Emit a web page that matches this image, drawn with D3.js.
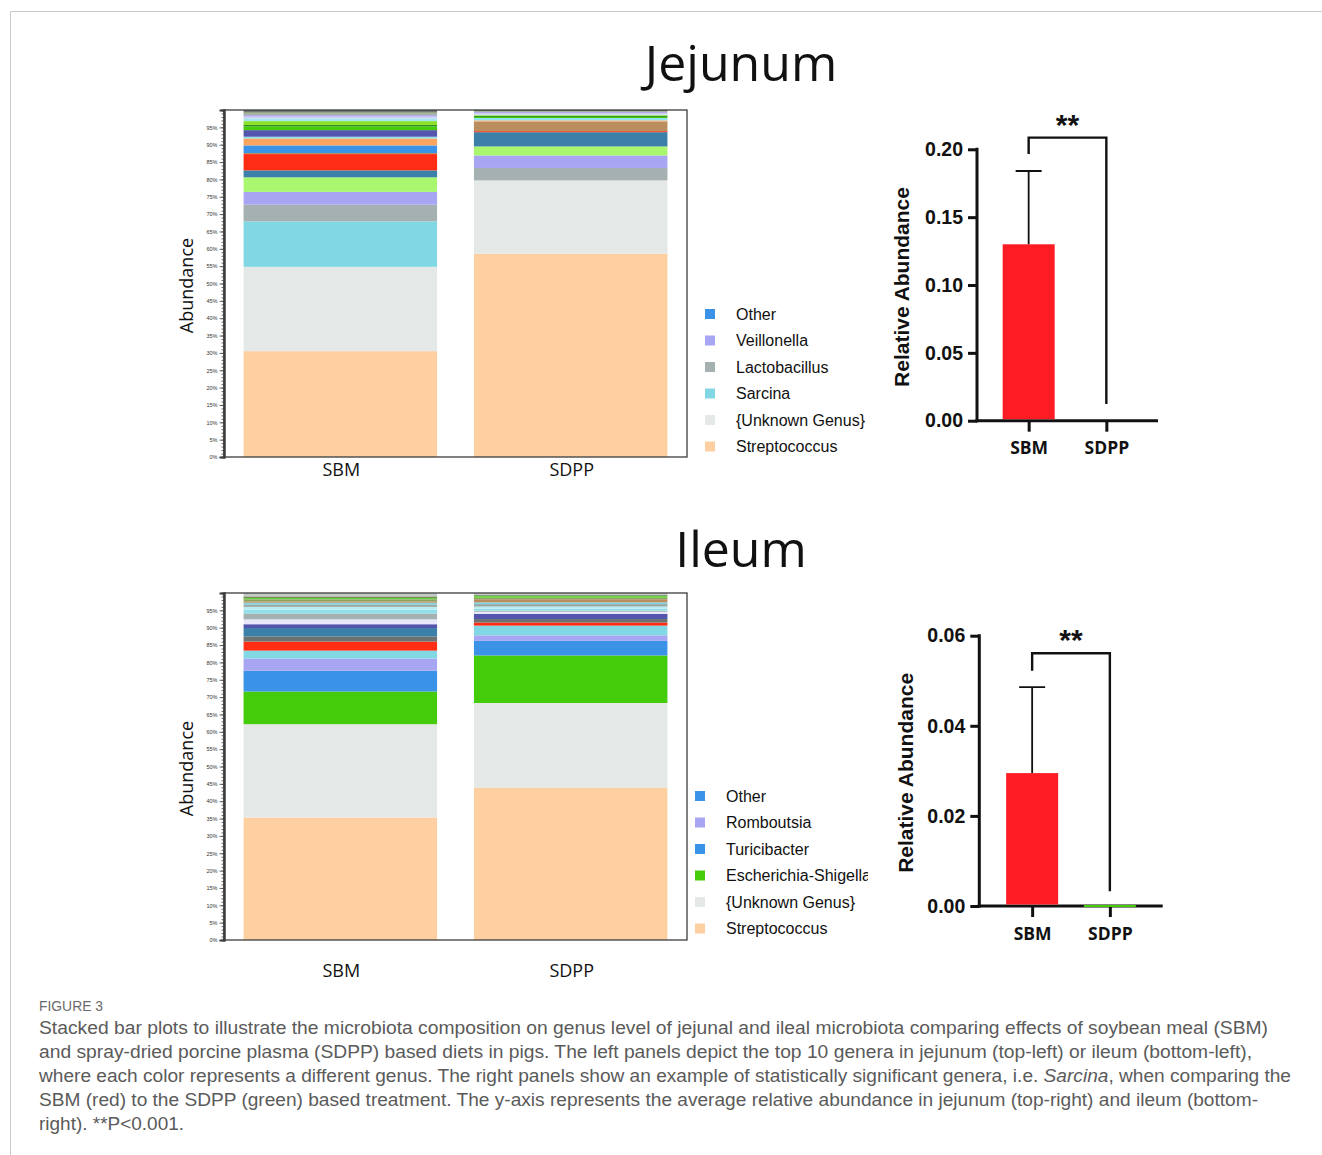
<!DOCTYPE html>
<html>
<head>
<meta charset="utf-8">
<script src="https://cdn.jsdelivr.net/npm/d3@7"></script>
<style>
  body { margin: 0; background: #fff; }
  svg { display: block; }
</style>
</head>
<body>
<svg id="fig" width="1322" height="1155"></svg>
<script>
  // ---- data ----
  const groups = ["SBM", "SDPP"];

  // jejunum genus composition (%), stacked bottom to top
  const jejGenera = ["Streptococcus", "{Unknown Genus}", "Sarcina", "Lactobacillus", "Veillonella",
    "genus 6", "genus 7", "genus 8", "genus 9", "Other", "genus 11", "genus 12", "genus 13", "genus 14",
    "genus 15", "genus 16", "genus 17", "genus 18", "genus 19", "genus 20", "genus 21", "genus 22"];
  const jejSBM = [30.5, 24.3, 13.1, 4.8, 3.7, 4.2, 2.0, 4.7, 0.3, 2.2, 2.0, 0.5, 1.9, 1.1, 0.4, 1.1, 0.8, 0.5, 0.5, 0.4, 0.3, 0.7];
  const jejSDPP = [58.6, 21.1, 0, 3.6, 3.6, 2.6, 4.1, 0.3, 2.8, 0, 0.3, 0.7, 0, 0.3, 0.3, 0.2, 0.2, 0.4, 0.3, 0.2, 0.1, 0.3];
  const jejLegend = ["Other", "Veillonella", "Lactobacillus", "Sarcina", "{Unknown Genus}", "Streptococcus"];

  // ileum genus composition (%), stacked bottom to top
  const ileGenera = ["Streptococcus", "{Unknown Genus}", "Escherichia-Shigella", "Turicibacter", "Romboutsia",
    "genus 6", "genus 7", "genus 8", "genus 9", "genus 10", "genus 11", "genus 12", "genus 13", "genus 14",
    "genus 15", "genus 16", "genus 17", "genus 18", "genus 19", "genus 20", "genus 21"];
  const ileSBM = [35.3, 26.9, 9.4, 6.0, 3.5, 2.3, 2.6, 1.5, 2.4, 1.1, 1.4, 1.7, 1.1, 0.8, 0.7, 0.5, 0.4, 0.6, 0.4, 0.4, 1.0];
  const ileSDPP = [43.9, 24.4, 13.7, 4.2, 1.6, 2.8, 0.9, 1.0, 0, 1.5, 0.6, 0.3, 0.6, 0.6, 0.7, 0.5, 0.9, 0.4, 0.6, 0.2, 0.6];
  const ileLegend = ["Other", "Romboutsia", "Turicibacter", "Escherichia-Shigella", "{Unknown Genus}", "Streptococcus"];

  // Sarcina relative abundance (mean, sd)
  const jejMean = [0.130, 0.0];
  const jejErr = [0.054, 0];
  const ileMean = [0.0295, 0.0002];
  const ileErr = [0.0191, 0];
  const jejTicks = [0, 0.05, 0.10, 0.15, 0.20];
  const ileTicks = [0, 0.02, 0.04, 0.06];

  const caption = [
    "Stacked bar plots to illustrate the microbiota composition on genus level of jejunal and ileal microbiota comparing effects of soybean meal (SBM)",
    "and spray-dried porcine plasma (SDPP) based diets in pigs. The left panels depict the top 10 genera in jejunum (top-left) or ileum (bottom-left),",
    ["where each color represents a different genus. The right panels show an example of statistically significant genera, i.e. ", "Sarcina", ", when comparing the"],
    "SBM (red) to the SDPP (green) based treatment. The y-axis represents the average relative abundance in jejunum (top-right) and ileum (bottom-",
    "right). **P<0.001."
  ];

  // ---- styles ----
  const jejPalette = ["#fdcfa1", "#e4e8e6", "#82d7e4", "#a5b0b0", "#a8a5f3", "#a9f76f", "#3a80a9", "#ff2d14",
    "#b98d5d", "#3a93e6", "#fba45e", "#8fe3ec", "#5456ad", "#45cd0b", "#2f8d17", "#8be22a", "#a6e6ee",
    "#c9cdf2", "#b1a9ea", "#9aa6a6", "#7c9b52", "#6f7777"];
  const ilePalette = ["#fdcfa1", "#e4e8e6", "#44cc0a", "#3a93e6", "#a8a5f3", "#82d7e4", "#ff2d14", "#6b7372",
    "#3a80a9", "#5456ad", "#e9e8fa", "#a5b0b0", "#8fe0e8", "#b9ecf0", "#98a8a6", "#7ed4e0", "#b98d5d",
    "#8aa262", "#6fd046", "#5c7b3b", "#c3cac8"];
  const RED = "#fe1c24", GREEN = "#44cc0a";

  const svg = d3.select("#fig");

  // figure frame
  svg.append("path").attr("d", "M10.5,1155 V11.5 H1322").attr("fill", "none").attr("stroke", "#c9c9c9");

  svg.append("text").attr("x", 741).attr("y", 81).attr("text-anchor", "middle")
    .style("font", "50px 'Open Sans'").attr("fill", "#111").text("Jejunum");
  svg.append("text").attr("x", 741).attr("y", 567).attr("text-anchor", "middle")
    .style("font", "50px 'Open Sans'").attr("fill", "#111").text("Ileum");

  function stackChart(cfg) {
    const g = svg.append("g");
    const color = d3.scaleOrdinal(cfg.genera.concat(["Other"]), cfg.palette.concat(["#3a93e6"]));
    const rows = groups.map((grp, i) => {
      const r = { group: grp };
      cfg.genera.forEach((k, j) => r[k] = cfg.values[i][j]);
      return r;
    });
    const series = d3.stack().keys(cfg.genera)(rows);

    const x = d3.scaleBand().domain(groups).range([224, 687]).paddingInner(0.16).paddingOuter(0.085);
    const y = d3.scaleLinear().domain([0, 100]).range([cfg.bottom, cfg.bottom - 347]);

    g.selectAll("g.layer").data(series).join("g").attr("class", "layer")
      .attr("fill", s => color(s.key))
      .selectAll("rect").data(s => s).join("rect")
      .attr("x", d => x(d.data.group))
      .attr("width", x.bandwidth())
      .attr("y", d => y(d[1]))
      .attr("height", d => Math.max(0, y(d[0]) - y(d[1])));

    // frame
    g.append("rect").attr("x", 224).attr("y", y(100)).attr("width", 463).attr("height", y(0) - y(100))
      .attr("fill", "none").attr("stroke", "#3c3c3c").attr("stroke-width", 1.3);

    const minor = g.append("g").attr("transform", "translate(224,0)")
      .call(d3.axisLeft(y).tickValues(d3.range(0, 101, 1)).tickSize(2.5).tickFormat(""));
    const major = g.append("g").attr("transform", "translate(224,0)")
      .call(d3.axisLeft(y).tickValues(d3.range(0, 100, 5)).tickSize(4.5).tickPadding(2).tickFormat(d => d + "%"));
    [minor, major].forEach(a => {
      a.select(".domain").attr("stroke", "#3c3c3c").attr("stroke-width", 2);
      a.selectAll(".tick line").attr("stroke", "#444").attr("stroke-width", 0.8);
    });
    major.selectAll("text").style("font", "5.5px 'Liberation Sans'").attr("fill", "#333");

    g.selectAll("text.cat").data(groups).join("text").attr("class", "cat")
      .attr("x", d => x(d) + x.bandwidth() / 2 + 1).attr("y", cfg.bottom + cfg.catDy)
      .attr("text-anchor", "middle").style("font", "18px 'Open Sans'").attr("fill", "#111").text(d => d);

    g.append("text").attr("transform", `translate(193,${y(50) + 2}) rotate(-90)`)
      .attr("text-anchor", "middle").style("font", "18px 'Open Sans'").attr("fill", "#111").text("Abundance");

    // legend
    const clipId = "clip" + cfg.bottom;
    svg.append("clipPath").attr("id", clipId).append("rect")
      .attr("x", cfg.legendX - 20).attr("y", cfg.legendY - 20).attr("width", cfg.legendClip).attr("height", 200);
    const lg = g.append("g").attr("clip-path", `url(#${clipId})`);
    const li = lg.selectAll("g").data(cfg.legend).join("g")
      .attr("transform", (d, i) => `translate(${cfg.legendX},${cfg.legendY + i * 26.5})`);
    li.append("rect").attr("x", 0).attr("y", -5).attr("width", 10).attr("height", 10).attr("fill", d => color(d));
    li.append("text").attr("x", 31).attr("y", 5.5).style("font", "16px 'Liberation Sans'").attr("fill", "#111").text(d => d);
  }

  stackChart({ genera: jejGenera, palette: jejPalette, values: [jejSBM, jejSDPP], bottom: 457, catDy: 19,
    legend: jejLegend, legendX: 705, legendY: 314, legendClip: 250 });
  stackChart({ genera: ileGenera, palette: ilePalette, values: [ileSBM, ileSDPP], bottom: 940, catDy: 37,
    legend: ileLegend, legendX: 695, legendY: 796, legendClip: 193 });

  function barChart(cfg) {
    const g = svg.append("g");
    const x = d3.scalePoint().domain(groups).range([cfg.left, cfg.right]).padding(cfg.pad);
    const y = d3.scaleLinear().domain([0, cfg.ticks[cfg.ticks.length - 1]]).range([cfg.bottom, cfg.top]);
    const bw = 52;

    const ax = g.append("g").attr("transform", `translate(${cfg.left},0)`)
      .call(d3.axisLeft(y).tickValues(cfg.ticks).tickSize(9).tickPadding(5).tickFormat(d3.format(".2f")));
    ax.select(".domain").remove();
    ax.selectAll(".tick line").attr("stroke", "#111").attr("stroke-width", 3);
    ax.selectAll("text").style("font", "bold 19.5px 'Liberation Sans'").attr("fill", "#111");
    g.append("line").attr("x1", cfg.left).attr("x2", cfg.left).attr("y1", y(0) + 1.5).attr("y2", cfg.top - 1.5)
      .attr("stroke", "#111").attr("stroke-width", 3);

    const bx = g.append("g").attr("transform", `translate(0,${cfg.bottom})`)
      .call(d3.axisBottom(x).tickSize(11).tickPadding(6));
    bx.select(".domain").remove();
    bx.selectAll(".tick line").attr("stroke", "#111").attr("stroke-width", 3);
    bx.selectAll("text").style("font", "bold 17.5px 'Open Sans'").attr("fill", "#111").attr("dy", "0.95em");
    g.append("line").attr("x1", cfg.left - 1.5).attr("x2", cfg.right).attr("y1", y(0)).attr("y2", y(0))
      .attr("stroke", "#111").attr("stroke-width", 3);

    // bars drawn over the baseline
    g.selectAll("rect.bar").data(groups).join("rect").attr("class", "bar")
      .attr("x", d => x(d) - bw / 2).attr("width", bw)
      .attr("y", (d, i) => i === 1 && cfg.mean[i] > 0 ? y(0) - 1 : y(cfg.mean[i]))
      .attr("height", (d, i) => i === 1 ? (cfg.mean[i] > 0 ? 2 : 0) : y(0) - y(cfg.mean[i]) - 1.5)
      .attr("fill", (d, i) => i === 0 ? RED : GREEN);

    // error bars (upper)
    groups.forEach((grp, i) => {
      if (!cfg.err[i]) return;
      const top = y(cfg.mean[i] + cfg.err[i]);
      g.append("path").attr("d", `M${x(grp)},${y(cfg.mean[i])} V${top} M${x(grp) - 13},${top} H${x(grp) + 13}`)
        .attr("fill", "none").attr("stroke", "#111").attr("stroke-width", 1.8);
    });

    g.append("text").attr("transform", `translate(${cfg.labelX},${(y(0) + y(cfg.ticks[cfg.ticks.length - 1])) / 2 + 2}) rotate(-90)`)
      .attr("text-anchor", "middle").style("font", "bold 21px 'Liberation Sans'").attr("fill", "#111")
      .text("Relative Abundance");

    // significance bracket
    const [bTop, bLeft, bRight] = cfg.bracket;
    g.append("path")
      .attr("d", `M${x("SBM")},${y(bLeft)} V${y(bTop)} H${x("SDPP")} V${y(bRight)}`)
      .attr("fill", "none").attr("stroke", "#111").attr("stroke-width", 2.4);
    g.append("text").attr("x", (x("SBM") + x("SDPP")) / 2).attr("y", y(bTop) - 3)
      .attr("text-anchor", "middle").style("font", "bold 30px 'Liberation Sans'").attr("fill", "#111").text("**");
  }

  barChart({ left: 977, right: 1158, pad: 0.665, top: 149.3, bottom: 420.7, ticks: jejTicks,
    mean: jejMean, err: jejErr, bracket: [0.2086, 0.1966, 0.0123], labelX: 909 });
  barChart({ left: 979.3, right: 1162.7, pad: 0.68, top: 635.7, bottom: 906, ticks: ileTicks,
    mean: ileMean, err: ileErr, bracket: [0.0561, 0.0522, 0.0033], labelX: 913 });

  // caption
  svg.append("text").attr("x", 39).attr("y", 1011).attr("textLength", 64).attr("lengthAdjust", "spacingAndGlyphs")
    .style("font", "14px 'Liberation Sans Narrow', 'Liberation Sans'").attr("fill", "#6a6a6a").text("FIGURE 3");
  const capWidths = [1229, 1213, 1252, 1219, 145];
  caption.forEach((line, i) => {
    const t = svg.append("text").attr("x", 39).attr("y", 1034 + i * 24)
      .attr("textLength", capWidths[i]).attr("lengthAdjust", "spacingAndGlyphs")
      .style("font", "17.5px 'Liberation Sans Narrow', 'Liberation Sans'").attr("fill", "#5a5a5a");
    if (Array.isArray(line)) {
      line.forEach((part, j) => t.append("tspan").style("font-style", j === 1 ? "italic" : "normal").text(part));
    } else {
      t.text(line);
    }
  });
</script>
</body>
</html>
